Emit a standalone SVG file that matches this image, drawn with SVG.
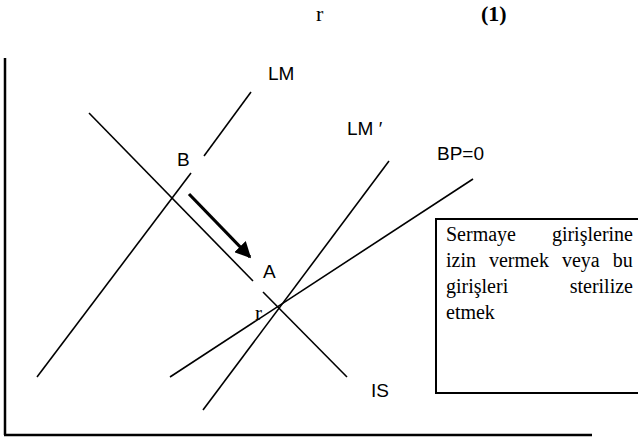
<svg xmlns="http://www.w3.org/2000/svg" width="638" height="439" viewBox="0 0 638 439">
  <style>
    .curve { stroke: #000; stroke-width: 1.6; fill: none; }
    .axis { stroke: #000; stroke-width: 2.5; fill: none; }
    .lbl { font-family: "Liberation Sans", Arial, sans-serif; font-size: 19px; fill: #000; }
    .ser { font-family: "Liberation Serif", "Times New Roman", serif; fill: #000; }
    .note { font-family: "Liberation Serif", "Times New Roman", serif; font-size: 20px; fill: #000; }
  </style>
  <defs>
    <marker id="head" viewBox="0 0 10 10" refX="9" refY="5" markerWidth="5" markerHeight="5" orient="auto" markerUnits="strokeWidth">
      <path d="M0,0 L10,5 L0,10 Z" fill="#000"/>
    </marker>
  </defs>
  <rect width="638" height="439" fill="#fff"/>

  <!-- title -->
  <text class="ser" x="316" y="21" font-size="22">r</text>
  <text class="ser" x="481" y="21" font-size="22" font-weight="bold">(1)</text>

  <!-- axes -->
  <g id="axes">
    <line class="axis" x1="5" y1="58" x2="5" y2="435"/>
    <line class="axis" x1="4" y1="435" x2="592" y2="435"/>
  </g>

  <g id="connectors">
    <!-- LM (broken at B) -->
    <line class="curve" x1="37" y1="377" x2="191" y2="173"/>
    <line class="curve" x1="204" y1="156" x2="251" y2="92"/>
    <!-- IS (broken at A) -->
    <line class="curve" x1="89" y1="113" x2="253" y2="281"/>
    <line class="curve" x1="263" y1="292" x2="347" y2="377"/>
    <!-- LM' -->
    <line class="curve" x1="203" y1="410" x2="389" y2="161"/>
    <!-- BP=0 -->
    <line class="curve" x1="170" y1="377" x2="473" y2="179"/>
    <!-- shift from B to A -->
    <line x1="189" y1="194" x2="250" y2="257" stroke="#000" stroke-width="3.2" marker-end="url(#head)"/>
  </g>

  <g id="labels">
    <text class="lbl" x="268" y="80">LM</text>
    <text class="lbl" x="177" y="166">B</text>
    <text class="lbl" x="347" y="135">LM ′</text>
    <text class="lbl" x="437" y="160">BP=0</text>
    <text class="lbl" x="263" y="278">A</text>
    <text class="ser" x="255" y="320" font-size="21">r</text>
    <text class="lbl" x="371" y="397">IS</text>
  </g>

  <g id="note">
    <rect x="436" y="219" width="210" height="174" fill="#fff" stroke="#000" stroke-width="2"/>
    <text class="note" x="446" y="241">Sermaye</text>
    <text class="note" x="633" y="241" text-anchor="end">girişlerine</text>
    <text class="note" x="446" y="267" word-spacing="8">izin vermek veya bu</text>
    <text class="note" x="446" y="293">girişleri</text>
    <text class="note" x="633" y="293" text-anchor="end">sterilize</text>
    <text class="note" x="446" y="319">etmek</text>
  </g>
</svg>
